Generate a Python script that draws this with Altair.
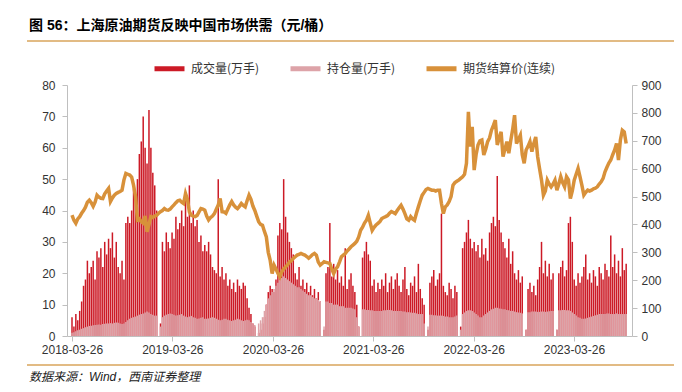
import altair as alt
import pandas as pd

# ---- data (weekly readings from the picture) ----
volume = [
    6, 3, 7, 5, 8, 11, 16, 18, 24, 20,
    22, 24, 18, 27, 25, 28, 22, 30, 26, 31,
    28, 33, 25, 30, 22, 20, 24, 18, 36, 38,
    36, 40, 47, 45, 50, 58, 62, 70, 60, 55,
    72, 60, 52, 48, 40, 0, 4, 30, 27, 33,
    30, 28, 33, 31, 38, 34, 36, 40, 35, 45,
    38, 48, 36, 40, 35, 37, 30, 32, 27, 29,
    27, 30, 26, 22, 21, 20, 50, 19, 22, 18,
    20, 16, 18, 15, 17, 14, 18, 16, 15, 17,
    16, 12, 9, 7, 4, 3, 0, 1, 2, 4,
    6, 10, 14, 16, 15, 14, 18, 32, 36, 34,
    50, 38, 33, 30, 28, 26, 20, 18, 22, 16,
    18, 15, 17, 14, 16, 13, 15, 12, 14, 11,
    0, 2, 20, 22, 36, 19, 23, 18, 21, 17,
    19, 16, 28, 15, 18, 20, 16, 14, 10, 3,
    0, 25, 27, 30, 26, 24, 16, 18, 14, 17,
    15, 18, 16, 20, 14, 17, 19, 15, 18, 20,
    16, 14, 18, 22, 15, 13, 17, 16, 19, 14,
    23, 15, 12, 10, 0, 2, 17, 19, 21, 16,
    18, 20, 39, 16, 14, 13, 17, 15, 12, 16,
    14, 0, 3, 28, 30, 33, 37, 31, 28, 30,
    27, 29, 25, 31, 26, 28, 24, 33, 36, 38,
    35, 51, 37, 33, 30, 28, 25, 31, 23, 27,
    20, 18, 21, 17, 19, 0, 2, 15, 17, 14,
    16, 13, 18, 22, 30, 20, 24, 19, 23, 18,
    20, 0, 2, 20, 22, 24, 19, 21, 36, 38,
    30, 18, 16, 20, 17, 19, 22, 26, 18, 20,
    17, 21, 19, 16, 22, 20, 18, 23, 21, 19,
    32, 22, 26, 20, 24, 19, 28, 21, 23,
]

open_interest = [
    1, 1.2, 1.5, 1.8, 2, 2.3, 2.5, 2.8, 3, 3.2,
    3.3, 3.4, 3.5, 3.6, 3.7, 3.6, 3.8, 3.9, 4, 4,
    4.1, 4, 4.2, 4.3, 4.2, 4, 3.8, 4, 4.5, 5,
    5.5, 5.8, 6, 6.2, 6.5, 6.8, 7, 7.2, 7.5, 7.8,
    7.5, 7, 6.8, 6.5, 6.5, 0, 3, 6, 6.5, 6.8,
    7, 7.2, 7, 6.8, 6.5, 6.6, 6.8, 7, 6.5, 6.2,
    6, 6.2, 6.4, 6, 5.8, 5.5, 5.6, 5.8, 6, 5.5,
    5.5, 5.6, 5.8, 6, 5.8, 5.5, 5.2, 5, 5.2, 5.5,
    5.5, 5.2, 5, 4.8, 5, 5.2, 5.5, 5.3, 5, 4.8,
    5, 5.2, 5, 4.5, 4, 3.5, 0, 4, 5, 6,
    8, 10, 12, 13, 14, 15, 16, 17, 18, 18.5,
    19, 18.5, 18, 17.5, 17, 16.5, 16, 15.5, 15.5, 15,
    14.5, 14, 13.5, 13, 13, 12.5, 12, 12, 11.5, 11,
    0, 3, 11, 11, 10.5, 10.5, 10, 10, 10, 9.5,
    9.5, 9.5, 9, 9, 9, 9, 8.8, 8.5, 6, 3,
    0, 8.5, 8.5, 8.3, 8.3, 8.2, 8.2, 8, 8, 8,
    8, 8, 8.2, 8.2, 8.3, 8.3, 8.2, 8, 8, 8,
    8, 8, 7.8, 7.8, 7.6, 7.6, 7.5, 7.4, 7.4, 7.2,
    7, 7, 7, 4, 0, 3, 6.8, 6.8, 6.6, 6.6,
    6.5, 6.5, 6.5, 6.4, 6.2, 6.2, 6, 6, 6, 6.2,
    6.5, 0, 2, 7, 7.5, 8, 8.2, 8.2, 8, 7.5,
    7, 6.5, 6, 6, 6.5, 7, 7.5, 8, 8.5, 8.7,
    9, 9, 8.8, 8.7, 8.5, 8.5, 8.3, 8.2, 8, 8,
    7.8, 7.6, 7.5, 7.4, 7.2, 0, 2, 7.6, 7.6, 7.8,
    7.8, 7.8, 7.7, 7.7, 7.8, 7.8, 7.7, 7.8, 7.9, 8,
    8, 0, 2, 8.2, 8.2, 8.3, 8.3, 8.2, 8.2, 8,
    7.5, 7, 6.5, 6, 5.8, 5.5, 5.5, 5.6, 5.8, 6,
    6.2, 6.4, 6.6, 6.8, 7, 7, 7, 7, 7.2, 7.2,
    7, 7, 7, 7.2, 7, 7, 7, 7, 7,
]

price = [
    433, 415, 404, 420, 428, 440, 450, 462, 480, 487,
    478, 465, 480, 505, 498, 494, 493, 510, 520, 529,
    482, 495, 505, 511, 515, 518, 523, 560, 583, 580,
    577, 570, 540, 500, 416, 420, 410, 405, 430, 374,
    400, 428, 425, 430, 433, 440, 446, 450, 457, 452,
    451, 455, 463, 470, 478, 485, 487, 480, 475, 511,
    490, 445, 433, 430, 428, 432, 445, 457, 455, 451,
    430, 416, 425, 430, 439, 455, 470, 493, 446, 445,
    440, 455, 470, 482, 470, 462, 457, 465, 475, 468,
    463, 485, 505, 490, 466, 450, 430, 410, 400, 397,
    375, 355, 300, 271, 224, 254, 240, 225, 212, 230,
    240, 248, 255, 265, 270, 278, 284, 290, 293, 296,
    293, 290, 285, 279, 285, 292, 296, 290, 265, 254,
    260, 266, 264, 262, 260, 240, 224, 240, 248, 265,
    284, 290, 296, 305, 312, 320, 326, 332, 340, 355,
    379, 390, 405, 415, 433, 405, 379, 390, 398, 404,
    410, 421, 425, 428, 432, 440, 446, 443, 439, 450,
    460, 469, 455, 439, 420, 415, 428, 420, 415, 440,
    463, 485, 505, 515, 525, 529, 526, 523, 523, 520,
    523, 523, 475, 439, 463, 470, 482, 500, 541, 550,
    555, 559, 565, 571, 580, 619, 804, 679, 750, 595,
    650, 685, 700, 703, 649, 670, 697, 710, 738, 755,
    774, 685, 710, 732, 643, 670, 697, 655, 700, 740,
    792, 690, 705, 720, 650, 619, 667, 680, 697, 661,
    690, 714, 643, 600, 559, 505, 520, 559, 545, 535,
    545, 559, 523, 545, 571, 550, 535, 571, 560, 493,
    520, 559, 580, 601, 571, 540, 505, 515, 523, 520,
    523, 528, 530, 535, 545, 553, 565, 589, 605, 620,
    631, 650, 667, 690, 631, 703, 738, 732, 690,
]

series_names = ["成交量(万手)", "持仓量(万手)", "期货结算价(连续)"]
series_colors = ["#CC1A26", "#DDA3A8", "#D8913A"]
tick_years = [2018, 2019, 2020, 2021, 2022, 2023]
left_ticks = [0, 10, 20, 30, 40, 50, 60, 70, 80]
right_ticks = [0, 100, 200, 300, 400, 500, 600, 700, 800, 900]
title_text = "图 56：上海原油期货反映中国市场供需（元/桶）"
source_text = "数据来源：Wind，西南证券整理"

n = min(len(volume), len(open_interest), len(price))
dates = pd.date_range("2018-03-26", periods=n, freq="7D")
df = pd.DataFrame({
    "date": dates,
    "vol": volume[:n],
    "oi": open_interest[:n],
    "price": price[:n],
})

LAT = "'Liberation Sans', Arial, sans-serif"
CJK = "'Noto Sans CJK SC', sans-serif"
MIX = "'Liberation Sans', 'Noto Sans CJK SC', sans-serif"
GREY = "#BFBFBF"

color_scale = alt.Scale(domain=series_names, range=series_colors)
legend = alt.Legend(
    orient="none", legendX=85, legendY=-34, direction="horizontal", title=None,
    symbolType="stroke", symbolStrokeWidth=5, symbolSize=900,
    labelFont=CJK, labelFontSize=12, labelColor="#333333",
    columnPadding=20, labelOffset=4,
)

x_enc = alt.X(
    "date:T",
    scale=alt.Scale(
        domain=[alt.DateTime(year=2018, month=3, date=26),
                alt.DateTime(year=2023, month=10, date=5)],
        nice=False,
    ),
    axis=alt.Axis(
        values=[alt.DateTime(year=y, month=3, date=26) for y in tick_years],
        format="%Y-%m-%d", title=None, labelAngle=0, grid=False,
        labelFont=LAT, labelFontSize=12, labelColor="#333333",
        domainColor=GREY, tickColor=GREY, tickSize=5, labelPadding=3,
        labelFlush=False, labelOverlap=False,
    ),
)

left_axis = alt.Axis(
    orient="left", values=left_ticks, title=None, grid=False, labelFont=LAT,
    labelFontSize=12, labelColor="#333333", domainColor=GREY, tickColor=GREY,
    tickSize=5, labelPadding=7,
)
right_axis = alt.Axis(
    orient="right", values=right_ticks, title=None, grid=False, labelFont=LAT,
    labelFontSize=12, labelColor="#333333", domainColor=GREY, tickColor=GREY,
    tickSize=5, labelPadding=4,
)

left_scale = alt.Scale(domain=[0, 80], nice=False)

base = alt.Chart(df)
vol_layer = base.transform_calculate(series=f"'{series_names[0]}'").mark_bar(
    size=1.5, opacity=1
).encode(
    x=x_enc,
    y=alt.Y("vol:Q", scale=left_scale, axis=left_axis),
    color=alt.Color("series:N", scale=color_scale, legend=legend),
)
oi_layer = base.transform_calculate(series=f"'{series_names[1]}'").mark_bar(
    size=1.5, opacity=1
).encode(
    x=x_enc,
    y=alt.Y("oi:Q", scale=left_scale, axis=left_axis),
    color=alt.Color("series:N", scale=color_scale, legend=legend),
)
price_layer = base.transform_calculate(series=f"'{series_names[2]}'").mark_line(
    strokeWidth=3.5
).encode(
    x=x_enc,
    y=alt.Y("price:Q", scale=alt.Scale(domain=[0, 900], nice=False), axis=right_axis),
    color=alt.Color("series:N", scale=color_scale, legend=legend),
)

one = alt.Data(values=[{"k": 0}])
top_rule = alt.Chart(one).mark_rule(color="#D9A55B", strokeWidth=1.5).encode(
    x=alt.value(-40), x2=alt.value(607), y=alt.value(-44)
)
bottom_rule = alt.Chart(one).mark_rule(color="#D9A55B", strokeWidth=1.5).encode(
    x=alt.value(-40), x2=alt.value(607), y=alt.value(280)
)
title_layer = alt.Chart(alt.Data(values=[{"t": title_text}])).mark_text(
    align="left", baseline="middle", font=MIX, fontSize=14, fontWeight="bold",
    color="#000000",
).encode(x=alt.value(-38), y=alt.value(-59), text="t:N")
source_layer = alt.Chart(alt.Data(values=[{"t": source_text}])).mark_text(
    align="left", baseline="middle", font=MIX, fontSize=12, fontStyle="italic",
    color="#222222",
).encode(x=alt.value(-38), y=alt.value(292), text="t:N")

chart = alt.layer(
    alt.layer(vol_layer, oi_layer),
    price_layer,
    top_rule, bottom_rule, title_layer, source_layer,
).resolve_scale(y="independent").properties(
    width=565, height=251,
    autosize=alt.AutoSizeParams(type="none"),
    padding={"left": 59, "top": 77, "right": 42, "bottom": 54},
).configure_view(stroke=None)

chart.save("out.html", embed_options={"renderer": "svg", "actions": False})
